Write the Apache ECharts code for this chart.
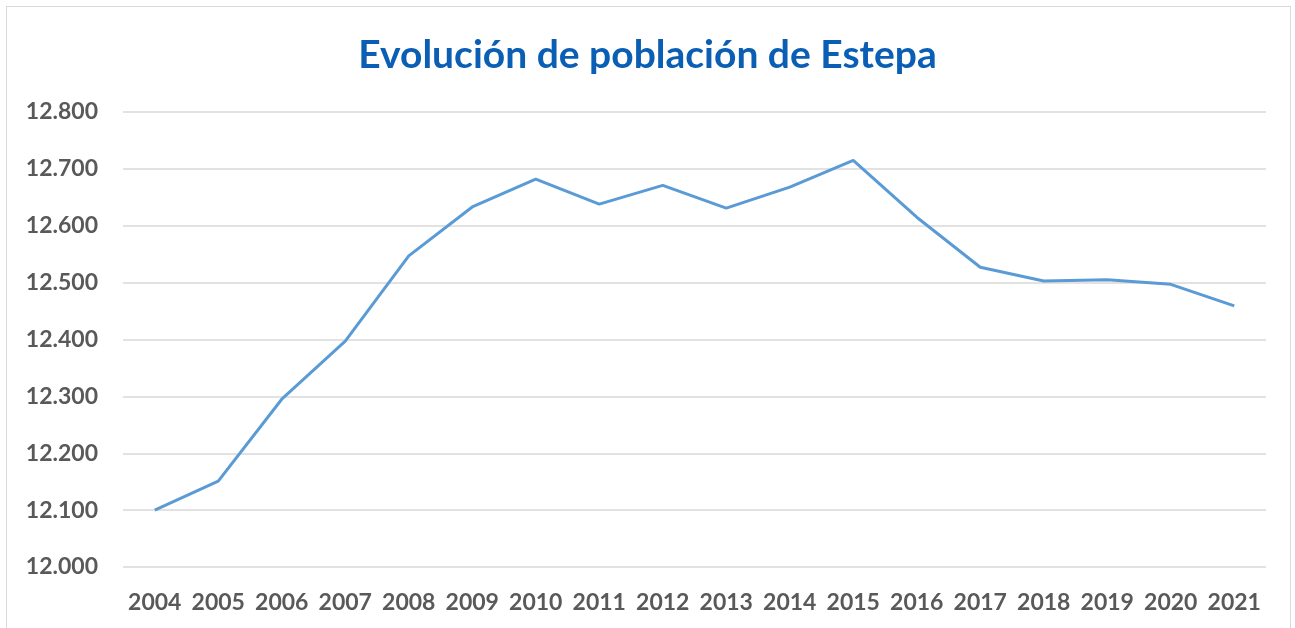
<!DOCTYPE html>
<html>
<head>
<meta charset="utf-8">
<script src="https://cdn.jsdelivr.net/npm/echarts@6/dist/echarts.min.js"></script>
<style>
  html, body { margin: 0; padding: 0; background: #fff; overflow: hidden; }
  #frame { position: absolute; left: 6px; top: 6px; width: 1283px; height: 650px; border: 1px solid #d9d9d9; }
  #chart { position: absolute; left: 0; top: 0; width: 1295px; height: 628px; }
</style>
</head>
<body>
<div id="frame"></div>
<div id="chart"></div>
<script>
const years = ['2004', '2005', '2006', '2007', '2008', '2009', '2010', '2011', '2012',
  '2013', '2014', '2015', '2016', '2017', '2018', '2019', '2020', '2021']
const population = [12100, 12151, 12295, 12397, 12547, 12633, 12682, 12638, 12671,
  12631, 12668, 12715, 12615, 12527, 12503, 12505, 12497, 12459]

const labelFont = 'Lato'
const chart = echarts.init(document.getElementById('chart'))

chart.setOption({
  animation: false,
  title: {
    text: 'Evolución de población de Estepa',
    left: 'center',
    top: 31,
    textStyle: {
      fontFamily: labelFont,
      fontWeight: 'bold',
      fontSize: 39,
      color: '#0a5fb4'
    }
  },
  grid: {
    left: 123,
    right: 29,
    top: 112,
    bottom: 61
  },
  xAxis: {
    type: 'category',
    data: years,
    boundaryGap: true,
    axisLine: { show: false },
    axisTick: { show: false },
    axisLabel: {
      interval: 0,
      margin: 24,
      fontFamily: labelFont,
      fontWeight: 'bold',
      fontSize: 23,
      color: '#595959'
    }
  },
  yAxis: {
    type: 'value',
    min: 12000,
    max: 12800,
    interval: 100,
    axisLine: { show: false },
    axisTick: { show: false },
    splitLine: { lineStyle: { color: '#d9d9d9', width: 1.5 } },
    axisLabel: {
      margin: 25,
      fontFamily: labelFont,
      fontWeight: 'bold',
      fontSize: 23,
      color: '#595959',
      formatter: v => (v / 1000).toFixed(3)
    }
  },
  series: [
    {
      type: 'line',
      data: population,
      symbol: 'none',
      lineStyle: { width: 3, color: '#5b9bd5' }
    }
  ]
})
</script>
</body>
</html>
